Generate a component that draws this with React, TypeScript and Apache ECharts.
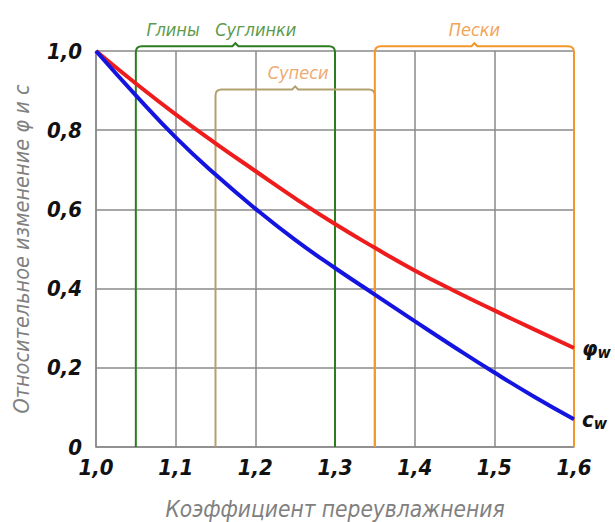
import React, { useEffect, useRef } from "react";
import * as echarts from "echarts";

const xValues = [1.0, 1.05, 1.1, 1.15, 1.2, 1.25, 1.3, 1.35, 1.4, 1.45, 1.5, 1.55, 1.6];
const phiW = [1.0, 0.918, 0.84, 0.767, 0.697, 0.628, 0.563, 0.503, 0.446, 0.394, 0.345, 0.297, 0.25];
const cW = [1.0, 0.888, 0.782, 0.688, 0.602, 0.523, 0.452, 0.385, 0.318, 0.252, 0.188, 0.127, 0.07];

// soil zones
const zoneStarts = [1.05, 1.15, 1.35];
const zoneEnds = [1.3, 1.35, 1.6];
const zoneTops = [1.012, 0.903, 1.012];
const zoneNames = ["Глины   Суглинки", "Супеси", "Пески"];
const zoneColors = ["#2d7d20", "#b3a070", "#f5962c"];
const zoneLabelColors = ["#5e9a4c", "#eeaa72", "#f2a458"];
const zoneLabelShift = [-14, 3, 0];

const FONT = "'DejaVu Sans Condensed', 'Liberation Sans Narrow', sans-serif";

export default function App() {
  const ref = useRef<HTMLDivElement>(null);
  useEffect(() => {
    document.body.style.margin = "0";
    const chart = echarts.init(ref.current!, null, { renderer: "svg" });
    const fmt = (v: number) => (v === 0 ? "0" : v.toFixed(1).replace(".", ","));
    const zoneData = zoneStarts.map((s, i) => [s, zoneEnds[i], zoneTops[i], i]);
    const richLabel = {
      a: { fontSize: 22, fontStyle: "italic", fontWeight: "bold", color: "#111", fontFamily: FONT },
      b: { fontSize: 16, fontStyle: "italic", fontWeight: "bold", color: "#111", fontFamily: FONT, verticalAlign: "bottom", padding: [8, 0, 0, 0] },
    };
    chart.setOption({
      animation: false,
      backgroundColor: "#fff",
      grid: { left: 96, right: 41, top: 51, bottom: 75, outerBoundsMode: "none", containLabel: false },
      xAxis: {
        type: "value",
        min: 1.0,
        max: 1.6,
        interval: 0.1,
        name: "Коэффициент переувлажнения",
        nameLocation: "middle",
        nameGap: 50,
        nameTextStyle: { color: "#808080", fontSize: 22.5, fontStyle: "italic", fontFamily: FONT },
        axisLine: { lineStyle: { color: "#8a8a8a", width: 1.5 } },
        axisTick: { show: false },
        axisLabel: {
          formatter: fmt,
          color: "#111",
          fontSize: 22,
          fontStyle: "italic",
          fontWeight: "bold",
          fontFamily: FONT,
          margin: 9,
        },
        splitLine: { show: true, lineStyle: { color: "#8a8a8a", width: 1.5 } },
      },
      yAxis: {
        type: "value",
        min: 0,
        max: 1,
        interval: 0.2,
        name: "Относительное изменение φ и c",
        nameLocation: "middle",
        nameGap: 64,
        nameTextStyle: { color: "#808080", fontSize: 21.5, fontStyle: "italic", fontFamily: FONT },
        axisLine: { show: true, lineStyle: { color: "#8a8a8a", width: 1.5 } },
        axisTick: { show: false },
        axisLabel: {
          formatter: fmt,
          color: "#111",
          fontSize: 22,
          fontStyle: "italic",
          fontWeight: "bold",
          fontFamily: FONT,
          margin: 14,
        },
        splitLine: { show: true, lineStyle: { color: "#8a8a8a", width: 1.5 } },
      },
      series: [
        {
          type: "custom",
          clip: false,
          z: 1,
          silent: true,
          data: zoneData,
          renderItem: (params: any, api: any) => {
            const s = api.value(0);
            const e = api.value(1);
            const top = api.value(2);
            const idx = api.value(3);
            const p1 = api.coord([s, 0]);
            const p2 = api.coord([e, 0]);
            const yt = api.coord([s, top])[1];
            const x1 = p1[0];
            const x2 = p2[0];
            const yb = p1[1];
            const r = 6;
            const xm = (x1 + x2) / 2;
            const d =
              `M${x1},${yb} L${x1},${yt + r} Q${x1},${yt} ${x1 + r},${yt} ` +
              `L${xm - 3},${yt} L${xm},${yt - 3} L${xm + 3},${yt} ` +
              `L${x2 - r},${yt} Q${x2},${yt} ${x2},${yt + r} L${x2},${yb}`;
            return {
              type: "group",
              children: [
                {
                  type: "path",
                  shape: { pathData: d },
                  style: { stroke: zoneColors[idx], lineWidth: 2, fill: "none" },
                },
                {
                  type: "text",
                  x: xm + zoneLabelShift[idx],
                  y: yt - 8,
                  style: {
                    text: zoneNames[idx],
                    fill: zoneLabelColors[idx],
                    fontSize: 18,
                    fontStyle: "italic",
                    fontFamily: FONT,
                    align: "center",
                    verticalAlign: "bottom",
                  },
                },
              ],
            };
          },
        },
        {
          type: "line",
          name: "φw",
          z: 5,
          smooth: true,
          symbol: "none",
          data: xValues.map((x, i) => [x, phiW[i]]),
          lineStyle: { color: "#ee1c1c", width: 4 },
          endLabel: { show: true, formatter: "{a|φ}{b|w}", distance: 8, rich: richLabel },
        },
        {
          type: "line",
          name: "cw",
          z: 5,
          smooth: true,
          symbol: "none",
          data: xValues.map((x, i) => [x, cW[i]]),
          lineStyle: { color: "#1414e0", width: 4 },
          endLabel: { show: true, formatter: "{a|c}{b|w}", distance: 8, rich: richLabel },
        },
      ],
    });
    return () => chart.dispose();
  }, []);
  return <div ref={ref} style={{ width: 615, height: 522 }} />;
}
